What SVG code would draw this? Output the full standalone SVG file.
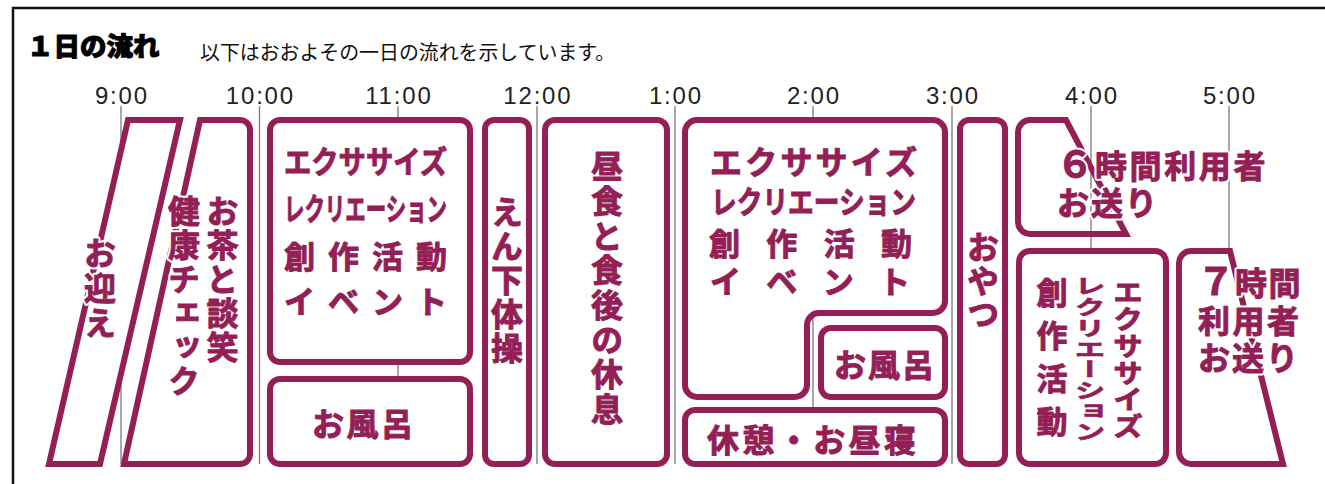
<svg xmlns="http://www.w3.org/2000/svg" xmlns:xlink="http://www.w3.org/1999/xlink" width="1325" height="484" viewBox="0 0 1325 484">
<style>
  .frame { fill: none; stroke: #111; stroke-width: 2.5; }
  .tick { stroke: #7a7a7a; stroke-width: 1.3; fill: none; }
  .time { font-family: "Liberation Sans", Arial, sans-serif; font-size: 24px; fill: #222; text-anchor: middle; letter-spacing: 1.8px; }
  .box { fill: #fff; stroke: #941f57; stroke-width: 6; stroke-linejoin: miter; }
  .open { fill: none; }
  .f { font-family: "Noto Sans CJK JP", "Noto Sans CJK SC", sans-serif; font-weight: 700; font-size: 32px; }
  .bt { fill: #941f57; stroke: #941f57; stroke-width: 1; stroke-linejoin: round; }
  .halo { fill: #fff; stroke: #fff; stroke-width: 5; stroke-linejoin: round; }
  .v { writing-mode: vertical-rl; }
  .title { font-family: "Noto Sans CJK JP", sans-serif; font-weight: 900; font-size: 26.5px; fill: #000; stroke: #000; stroke-width: 1; stroke-linejoin: round; }
  .sub { font-family: "Noto Sans CJK JP", sans-serif; font-weight: 400; font-size: 19.9px; fill: #111; }
</style>
<defs>
  <text id="t-omukae" class="f v" x="100" y="237" letter-spacing="3">お迎え</text>
  <text id="t-kenko" class="f v" x="184" y="195" letter-spacing="2">健康チェック</text>
  <text id="t-6a" class="f" x="1056" y="178"><tspan style="font-size:38px">６</tspan><tspan x="1095" letter-spacing="2.6">時間利用者</tspan></text>
  <text id="t-6b" class="f" x="1057" y="215" letter-spacing="2">お送り</text>
  <text id="t-7a" class="f" x="1197" y="295"><tspan style="font-size:38px">７</tspan><tspan x="1235" letter-spacing="1.5">時間</tspan></text>
  <text id="t-7b" class="f" x="1198" y="333" letter-spacing="2.5">利用者</text>
  <text id="t-7c" class="f" x="1198" y="370" letter-spacing="2">お送り</text>
</defs>
<rect x="0" y="0" width="1325" height="484" fill="#fff"/>
<rect class="frame" x="13" y="8" width="1400" height="600"/>

<g id="header">
  <text class="title" x="27" y="56">１日の流れ</text>
  <text class="sub" x="200" y="60">以下はおおよその一日の流れを示しています。</text>
</g>

<g id="timeline">
  <text class="time" x="121.9" y="104">9:00</text>
  <text class="time" x="260.4" y="104">10:00</text>
  <text class="time" x="398.9" y="104">11:00</text>
  <text class="time" x="537.9" y="104">12:00</text>
  <text class="time" x="675.9" y="104">1:00</text>
  <text class="time" x="813.9" y="104">2:00</text>
  <text class="time" x="952.9" y="104">3:00</text>
  <text class="time" x="1091.9" y="104">4:00</text>
  <text class="time" x="1229.9" y="104">5:00</text>
</g>

<g id="connectors">
  <line class="tick" x1="121" y1="106" x2="121" y2="464"/>
  <line class="tick" x1="259.5" y1="106" x2="259.5" y2="464"/>
  <line class="tick" x1="398" y1="106" x2="398" y2="464"/>
  <line class="tick" x1="537" y1="106" x2="537" y2="464"/>
  <line class="tick" x1="675" y1="106" x2="675" y2="464"/>
  <line class="tick" x1="813" y1="106" x2="813" y2="464"/>
  <line class="tick" x1="952" y1="106" x2="952" y2="464"/>
  <line class="tick" x1="1091" y1="106" x2="1091" y2="464"/>
  <line class="tick" x1="1229" y1="106" x2="1229" y2="464"/>
</g>

<g id="node-omukae">
  <path class="box" d="M128,120 H180 L100,464 H49 Z"/>
  <use xlink:href="#t-omukae" href="#t-omukae" class="halo"/>
  <use xlink:href="#t-omukae" href="#t-omukae" class="bt"/>
</g>

<g id="node-ocha">
  <path class="box" d="M200,120 H240 A10,10 0 0 1 250,130 V454 A10,10 0 0 1 240,464 H124 Z"/>
  <text class="f bt v" x="222.5" y="195" letter-spacing="2">お茶と談笑</text>
  <use xlink:href="#t-kenko" href="#t-kenko" class="halo"/>
  <use xlink:href="#t-kenko" href="#t-kenko" class="bt"/>
</g>

<g id="node-exercise1">
  <rect class="box" x="270" y="120" width="200" height="242" rx="10"/>
  <text class="f bt" x="284" y="173" style="font-size:31px" textLength="163" lengthAdjust="spacingAndGlyphs">エクササイズ</text>
  <text class="f bt" x="284" y="220" style="font-size:31px" textLength="163" lengthAdjust="spacingAndGlyphs">レクリエーション</text>
  <text class="f bt" x="284" y="268" style="font-size:31px" textLength="163" lengthAdjust="spacing">創作活動</text>
  <text class="f bt" x="284" y="313" style="font-size:31px" textLength="163" lengthAdjust="spacing">イベント</text>
</g>

<g id="node-bath1">
  <rect class="box" x="270" y="379" width="200" height="85" rx="10"/>
  <text class="f bt" x="312" y="436" textLength="101" lengthAdjust="spacing">お風呂</text>
</g>

<g id="node-enge">
  <rect class="box" x="485" y="120" width="44" height="344" rx="9"/>
  <text class="f bt v" x="507" y="196" letter-spacing="2">えん下体操</text>
</g>

<g id="node-lunch">
  <rect class="box" x="545" y="120" width="122" height="344" rx="10"/>
  <text class="f bt v" x="607" y="150" letter-spacing="2.7">昼食と食後の休息</text>
</g>

<g id="node-exercise2">
  <path class="box" d="M697,120 H933 A12,12 0 0 1 945,132 V301 A12,12 0 0 1 933,313 H819 A12,12 0 0 0 807,325 V385 A12,12 0 0 1 795,397 H697 A12,12 0 0 1 685,385 V132 A12,12 0 0 1 697,120 Z"/>
  <text class="f bt" x="710" y="174" textLength="207" lengthAdjust="spacing">エクササイズ</text>
  <text class="f bt" x="711" y="213" style="font-size:31px" textLength="205" lengthAdjust="spacingAndGlyphs">レクリエーション</text>
  <text class="f bt" x="709" y="255" style="font-size:31px" textLength="203" lengthAdjust="spacing">創作活動</text>
  <text class="f bt" x="710" y="293" style="font-size:31px" textLength="200" lengthAdjust="spacing">イベント</text>
</g>

<g id="node-bath2">
  <rect class="box" x="821" y="328" width="124" height="69" rx="10"/>
  <text class="f bt" x="834" y="377" textLength="100" lengthAdjust="spacing">お風呂</text>
</g>

<g id="node-nap">
  <rect class="box" x="685" y="410" width="260" height="54" rx="10"/>
  <text class="f bt" x="707" y="452" textLength="209" lengthAdjust="spacing">休憩・お昼寝</text>
</g>

<g id="node-oyatsu">
  <rect class="box" x="960" y="120" width="45" height="344" rx="9"/>
  <text class="f bt v" x="983" y="231" letter-spacing="1.5">おやつ</text>
</g>

<g id="node-6h">
  <path class="box open" d="M1030,120 H1066 L1126,234 H1030 A12,12 0 0 1 1018,222 V132 A12,12 0 0 1 1030,120 Z"/>
  <use xlink:href="#t-6a" href="#t-6a" class="halo"/>
  <use xlink:href="#t-6b" href="#t-6b" class="halo"/>
  <use xlink:href="#t-6a" href="#t-6a" class="bt"/>
  <use xlink:href="#t-6b" href="#t-6b" class="bt"/>
</g>

<g id="node-exercise3">
  <rect class="box" x="1019" y="251" width="147" height="213" rx="11"/>
  <text class="f bt v" transform="translate(1128,279) scale(1,0.89)" x="0" y="0" style="font-size:30px">エクササイズ</text>
  <text class="f bt v" transform="translate(1090,276) scale(1,0.67)" x="0" y="0" style="font-size:31px">レクリエーション</text>
  <text class="f bt v" x="1052" y="277" style="font-size:31px" letter-spacing="12">創作活動</text>
</g>

<g id="node-7h">
  <path class="box" d="M1191,251 H1230 L1283,464 H1191 A12,12 0 0 1 1179,452 V263 A12,12 0 0 1 1191,251 Z"/>
  <use xlink:href="#t-7a" href="#t-7a" class="halo"/>
  <use xlink:href="#t-7b" href="#t-7b" class="halo"/>
  <use xlink:href="#t-7c" href="#t-7c" class="halo"/>
  <use xlink:href="#t-7a" href="#t-7a" class="bt"/>
  <use xlink:href="#t-7b" href="#t-7b" class="bt"/>
  <use xlink:href="#t-7c" href="#t-7c" class="bt"/>
</g>
</svg>
